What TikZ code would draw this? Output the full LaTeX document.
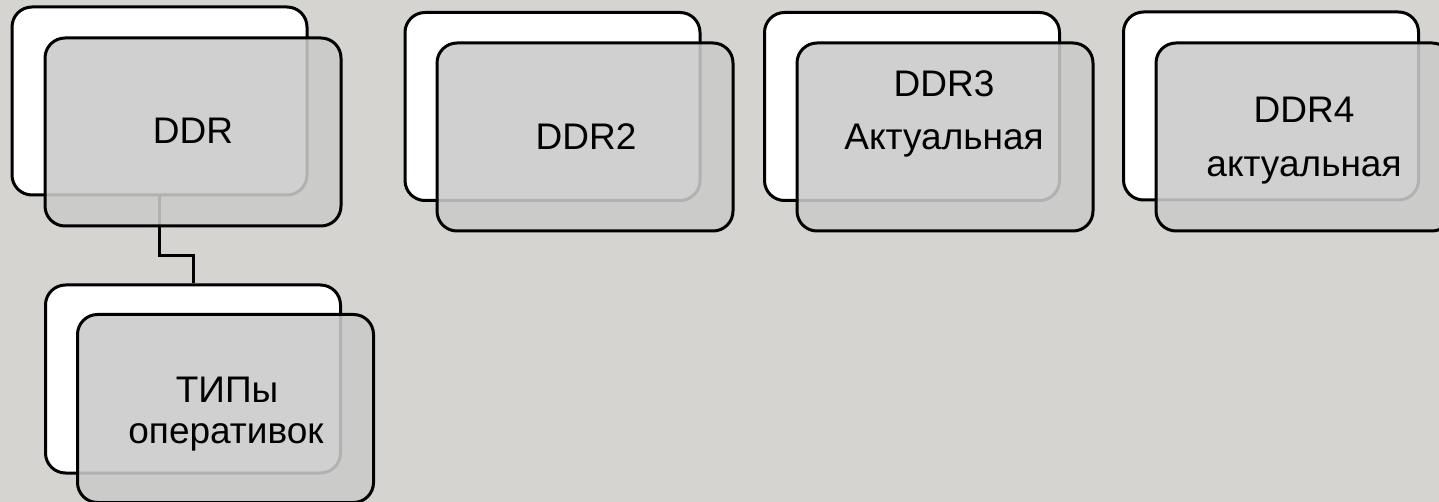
\documentclass[tikz,border=0pt]{standalone}
\usepackage{fontspec}
\setmainfont{Liberation Sans}
\definecolor{paper}{HTML}{D5D4D0}
\definecolor{cardgray}{RGB}{202,202,202}
\tikzset{
  back card/.style={draw=black, line width=3pt, fill=white, rounded corners=20pt,
    minimum width=295pt, minimum height=188pt, inner sep=0pt},
  front card/.style={draw=black, line width=3pt, fill=cardgray, fill opacity=0.88,
    rounded corners=20pt, minimum width=296pt, minimum height=188pt, inner sep=0pt},
  label/.style={anchor=base, inner sep=0pt, font=\fontsize{37}{44}\selectfont},
  link/.style={draw=black, line width=3pt},
}
\begin{document}
\begin{tikzpicture}[x=1pt,y=-1pt]
\clip (0,0) rectangle (1439,502);
\fill[paper] (0,0) rectangle (1439,502);

% back cards
\node[back card] (bD)  at (159.5,101)   {};
\node[back card] (bD2) at (552.5,106.5) {};
\node[back card] (bD3) at (912,106.5)   {};
\node[back card] (bD4) at (1271,106)    {};
\node[back card] (bT)  at (193,379)     {};

% elbow connector from DDR down to the memory types card
\draw[link] (bD.south) |- ([yshift=28pt]bT.north) -- (bT.north);

% translucent front cards
\node[front card] (fD)  at (193,132)   {};
\node[front card] (fD2) at (585,137)   {};
\node[front card] (fD3) at (945,137)   {};
\node[front card] (fD4) at (1304,137)  {};
\node[front card] (fT)  at (225.5,408.5) {};

% labels
\node[label] (lD)   at (193,144)  {DDR};
\node[label] (lD2)  at (586,150)  {DDR2};
\node[label] (lD3a) at (944,97)   {DDR3};
\node[label] (lD3b) at (944,150)  {Актуальная};
\node[label] (lD4a) at (1304,123) {DDR4};
\node[label] (lD4b) at (1304,177) {актуальная};
\node[label] (lTa)  at (227,402)  {ТИПы};
\node[label] (lTb)  at (226,443)  {оперативок};
\end{tikzpicture}
\end{document}
